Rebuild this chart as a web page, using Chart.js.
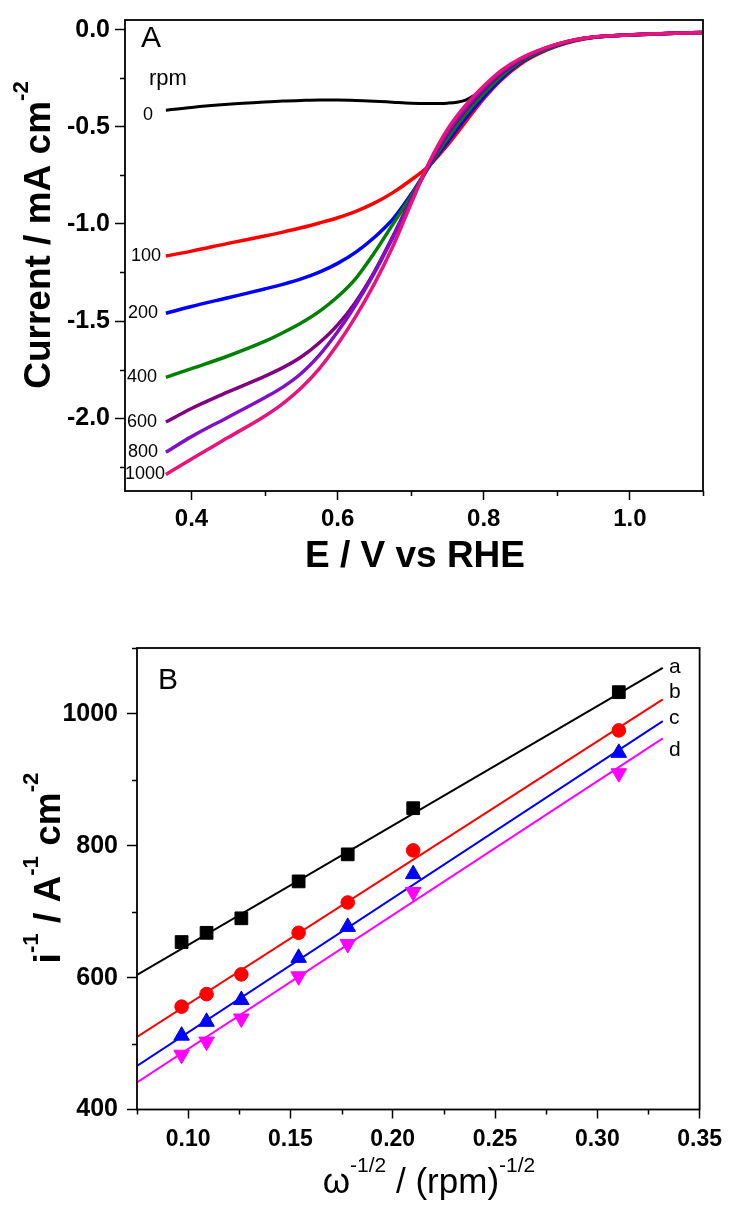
<!DOCTYPE html>
<html>
<head>
<meta charset="utf-8">
<script src="https://cdn.jsdelivr.net/npm/chart.js@4.4.1/dist/chart.umd.min.js"></script>
<style>
  body { margin: 0; background: #fff; }
  canvas { position: absolute; left: 0; }
</style>
</head>
<body>
<canvas id="lsvChart" width="729" height="600" style="top:0"></canvas>
<canvas id="klChart" width="729" height="605" style="top:600px"></canvas>
<script>
// Panel A: polarisation curves at different rotation rates (E vs RHE, mA cm-2)
const potential = [0.365, 0.40, 0.45, 0.50, 0.525, 0.55, 0.575, 0.60, 0.625, 0.65, 0.675, 0.70, 0.725,
                   0.75, 0.775, 0.80, 0.825, 0.85, 0.875, 0.90, 0.925, 0.95, 1.00, 1.05, 1.10];
const rpmNames = ['0', '100', '200', '400', '600', '800', '1000'];
const cur0    = [-0.415, -0.400, -0.384, -0.372, -0.367, -0.364, -0.362, -0.362, -0.364, -0.368, -0.373, -0.378, -0.380,
                 -0.378, -0.362, -0.302, -0.214, -0.151, -0.108, -0.075, -0.051, -0.038, -0.027, -0.020, -0.014];
const cur100  = [-1.165, -1.140, -1.100, -1.062, -1.042, -1.020, -0.995, -0.968, -0.935, -0.893, -0.840, -0.775, -0.700,
                 -0.595, -0.475, -0.355, -0.255, -0.178, -0.124, -0.085, -0.057, -0.040, -0.027, -0.020, -0.014];
const cur200  = [-1.460, -1.425, -1.380, -1.335, -1.311, -1.283, -1.248, -1.203, -1.145, -1.070, -0.978, -0.850, -0.705,
                 -0.580, -0.455, -0.345, -0.248, -0.171, -0.120, -0.082, -0.055, -0.039, -0.027, -0.020, -0.014];
const cur400  = [-1.790, -1.745, -1.680, -1.605, -1.560, -1.510, -1.450, -1.375, -1.280, -1.150, -1.005, -0.860, -0.705,
                 -0.560, -0.435, -0.328, -0.235, -0.165, -0.117, -0.080, -0.054, -0.039, -0.027, -0.020, -0.014];
const cur600  = [-2.020, -1.950, -1.865, -1.785, -1.740, -1.685, -1.612, -1.520, -1.400, -1.248, -1.068, -0.877, -0.700,
                 -0.540, -0.415, -0.310, -0.222, -0.158, -0.112, -0.078, -0.053, -0.039, -0.027, -0.020, -0.014];
const cur800  = [-2.175, -2.095, -1.995, -1.895, -1.840, -1.770, -1.675, -1.555, -1.415, -1.255, -1.075, -0.885, -0.693,
                 -0.530, -0.405, -0.300, -0.215, -0.153, -0.109, -0.076, -0.052, -0.038, -0.027, -0.020, -0.014];
const cur1000 = [-2.290, -2.210, -2.100, -1.990, -1.925, -1.845, -1.745, -1.620, -1.475, -1.310, -1.120, -0.900, -0.685,
                 -0.515, -0.390, -0.290, -0.207, -0.148, -0.106, -0.074, -0.051, -0.038, -0.027, -0.020, -0.014];
const lsvXTicks = [0.4, 0.6, 0.8, 1.0];
const lsvXMinor = [0.5, 0.7, 0.9, 1.1];
const lsvYTicks = [0.0, -0.5, -1.0, -1.5, -2.0];
const lsvYMinor = [-0.25, -0.75, -1.25, -1.75, -2.25];

// Panel B: Koutecky-Levich plots, measured points and fitted lines
const klX = [0.0968, 0.109, 0.126, 0.154, 0.178, 0.210, 0.3105];
const klA = [654, 668, 690, 746, 787, 857, 1033];
const klB = [556, 575, 605, 668, 714, 793, 975];
const klC = [512, 533, 566, 630, 677, 757, 941];
const klD = [483, 503, 538, 602, 651, 730, 910];
const fitX = [0.075, 0.332];
const fitA = [604, 1070];
const fitB = [510, 1022];
const fitC = [466, 989];
const fitD = [441, 963];
const klNames = ['a', 'b', 'c', 'd'];
const klXTicks = [0.10, 0.15, 0.20, 0.25, 0.30, 0.35];
const klXMinor = [0.075, 0.125, 0.175, 0.225, 0.275, 0.325];
const klYTicks = [400, 600, 800, 1000];
const klYMinor = [500, 700, 900, 1100];

const FONT = '"Liberation Sans", Arial, sans-serif';

function pts(xs, ys) {
  return xs.map((x, i) => ({ x: x, y: ys[i] }));
}

// text with superscripts, centred on (x, y) baseline, optionally rotated
function drawRich(ctx, parts, x, y, size, weight, rotate) {
  const supSize = size * 0.6;
  let total = 0;
  const widths = parts.map(p => {
    ctx.font = weight + ' ' + (p[1] ? supSize : size) + 'px ' + FONT;
    const w = ctx.measureText(p[0]).width;
    total += w;
    return w;
  });
  ctx.save();
  ctx.translate(x, y);
  if (rotate) ctx.rotate(-Math.PI / 2);
  ctx.fillStyle = '#000';
  ctx.textAlign = 'left';
  ctx.textBaseline = 'alphabetic';
  let cx = -total / 2;
  parts.forEach((p, i) => {
    ctx.font = weight + ' ' + (p[1] ? supSize : size) + 'px ' + FONT;
    ctx.fillText(p[0], cx, p[1] ? -size * 0.6 : 0);
    cx += widths[i];
  });
  ctx.restore();
}

function drawText(ctx, text, x, y, size, baseline) {
  ctx.font = size + 'px ' + FONT;
  ctx.fillStyle = '#000';
  ctx.textAlign = 'left';
  ctx.textBaseline = baseline || 'alphabetic';
  ctx.fillText(text, x, y);
}

// frame round the plot plus the short minor ticks
function frameAndMinor(chart, minorX, minorY, lenX, lenY) {
  const ctx = chart.ctx;
  const a = chart.chartArea;
  const xs = chart.scales.x, ys = chart.scales.y;
  ctx.save();
  ctx.strokeStyle = '#000';
  ctx.lineWidth = 1.5;
  ctx.beginPath();
  minorX.forEach(v => {
    const px = Math.round(xs.getPixelForValue(v)) + 0.5;
    ctx.moveTo(px, a.bottom);
    ctx.lineTo(px, a.bottom + lenX);
  });
  minorY.forEach(v => {
    const py = Math.round(ys.getPixelForValue(v)) + 0.5;
    ctx.moveTo(a.left - lenY, py);
    ctx.lineTo(a.left, py);
  });
  ctx.stroke();
  ctx.lineWidth = 1.8;
  ctx.strokeRect(a.left, a.top, a.right - a.left, a.bottom - a.top);
  ctx.restore();
}

function axisOpts(min, max, tickVals, fmt, fontSize, pad, tickLen, fit) {
  return {
    type: 'linear',
    min: min,
    max: max,
    afterFit: fit,
    afterBuildTicks: s => { s.ticks = tickVals.map(v => ({ value: v })); },
    ticks: {
      color: '#000',
      font: { family: FONT, size: fontSize, weight: 'bold' },
      padding: pad,
      autoSkip: false,
      maxRotation: 0,
      callback: fmt
    },
    grid: { drawOnChartArea: false, drawTicks: true, tickLength: tickLen, tickWidth: 1.5, tickColor: '#000' },
    border: { display: false }
  };
}

const baseOpts = {
  responsive: false,
  devicePixelRatio: 1,
  animation: false,
  events: [],
  plugins: { legend: { display: false }, tooltip: { enabled: false } }
};

// ---- panel A ----
const lsvSeries = [cur0, cur100, cur200, cur400, cur600, cur800, cur1000];
const lsvColors = ['#000000', '#ff0000', '#0000ff', '#008000', '#800080', '#8010c8', '#e8147c'];
const lsvLabelX = [143, 131, 128, 127, 127, 128, 125];

new Chart(document.getElementById('lsvChart'), {
  type: 'line',
  data: {
    datasets: lsvSeries.map((s, i) => ({
      label: rpmNames[i] + ' rpm',
      data: pts(potential, s),
      borderColor: lsvColors[i],
      borderWidth: i === 0 ? 3 : 3.5,
      pointRadius: 0,
      cubicInterpolationMode: 'monotone',
      order: lsvSeries.length - i
    }))
  },
  options: Object.assign({}, baseOpts, {
    layout: { padding: { top: 17, right: 26, left: 0, bottom: 0 } },
    scales: {
      x: axisOpts(0.309, 1.1, lsvXTicks, v => v.toFixed(1), 24, 5, 9, s => { s.height = 109; }),
      y: axisOpts(-2.375, 0.05, lsvYTicks, v => v.toFixed(1), 25, 5, 10, s => { s.width = 125; })
    }
  }),
  plugins: [{
    id: 'lsvDecor',
    afterDraw(chart) {
      const ctx = chart.ctx;
      frameAndMinor(chart, lsvXMinor, lsvYMinor, 5, 5);
      drawRich(ctx, [['Current / mA cm', false], ['-2', true]], 50, 235, 37, 'bold', true);
      drawRich(ctx, [['E / V vs RHE', false]], 415, 567, 37, 'bold', false);
      drawText(ctx, 'A', 141, 47, 30);
      drawText(ctx, 'rpm', 149, 85, 22);
      const ys = chart.scales.y;
      lsvSeries.forEach((s, i) => {
        const y = ys.getPixelForValue(s[0]) + (i === 0 ? 5 : 0);
        drawText(ctx, rpmNames[i], lsvLabelX[i], y, 18, 'middle');
      });
    }
  }]
});

// ---- panel B ----
const klSeries = [klA, klB, klC, klD];
const fitSeries = [fitA, fitB, fitC, fitD];
const klColors = ['#000000', '#ff0000', '#0000ff', '#ff00ff'];
const klMarks = [
  { pointStyle: 'rect', pointRadius: 9, rotation: 0 },
  { pointStyle: 'circle', pointRadius: 6.8, rotation: 0 },
  { pointStyle: 'triangle', pointRadius: 9, rotation: 0 },
  { pointStyle: 'triangle', pointRadius: 9, rotation: 180 }
];
const klLabelY = [667, 692, 718, 750];

const klDatasets = [];
klSeries.forEach((s, i) => {
  klDatasets.push({
    label: klNames[i],
    data: pts(klX, s),
    showLine: false,
    backgroundColor: klColors[i],
    borderColor: klColors[i],
    borderWidth: 1,
    pointStyle: klMarks[i].pointStyle,
    pointRadius: klMarks[i].pointRadius,
    pointRotation: klMarks[i].rotation,
    order: 0
  });
  klDatasets.push({
    label: klNames[i] + ' fit',
    data: pts(fitX, fitSeries[i]),
    borderColor: klColors[i],
    borderWidth: 2,
    pointRadius: 0,
    order: 1
  });
});

new Chart(document.getElementById('klChart'), {
  type: 'line',
  data: { datasets: klDatasets },
  options: Object.assign({}, baseOpts, {
    layout: { padding: { top: 48, right: 29, left: 0, bottom: 0 } },
    scales: {
      x: axisOpts(0.075, 0.35, klXTicks, v => v.toFixed(2), 23, 7, 9, s => { s.height = 95.5; }),
      y: axisOpts(400, 1100, klYTicks, v => String(Math.round(v)), 25, 9, 10, s => { s.width = 137; })
    }
  }),
  plugins: [{
    id: 'klDecor',
    afterDraw(chart) {
      const ctx = chart.ctx;
      frameAndMinor(chart, klXMinor, klYMinor, 5, 5);
      drawRich(ctx, [['i', false], ['-1', true], [' / A', false], ['-1', true], [' cm', false], ['-2', true]],
        60, 268, 37, 'bold', true);
      drawRich(ctx, [['\u03c9', false], ['-1/2', true], [' / (rpm)', false], ['-1/2', true]],
        429, 593, 35, 'normal', false);
      drawText(ctx, 'B', 158, 89, 30);
      klNames.forEach((n, i) => drawText(ctx, n, 669, klLabelY[i] - 600, 21, 'middle'));
    }
  }]
});
</script>
</body>
</html>
